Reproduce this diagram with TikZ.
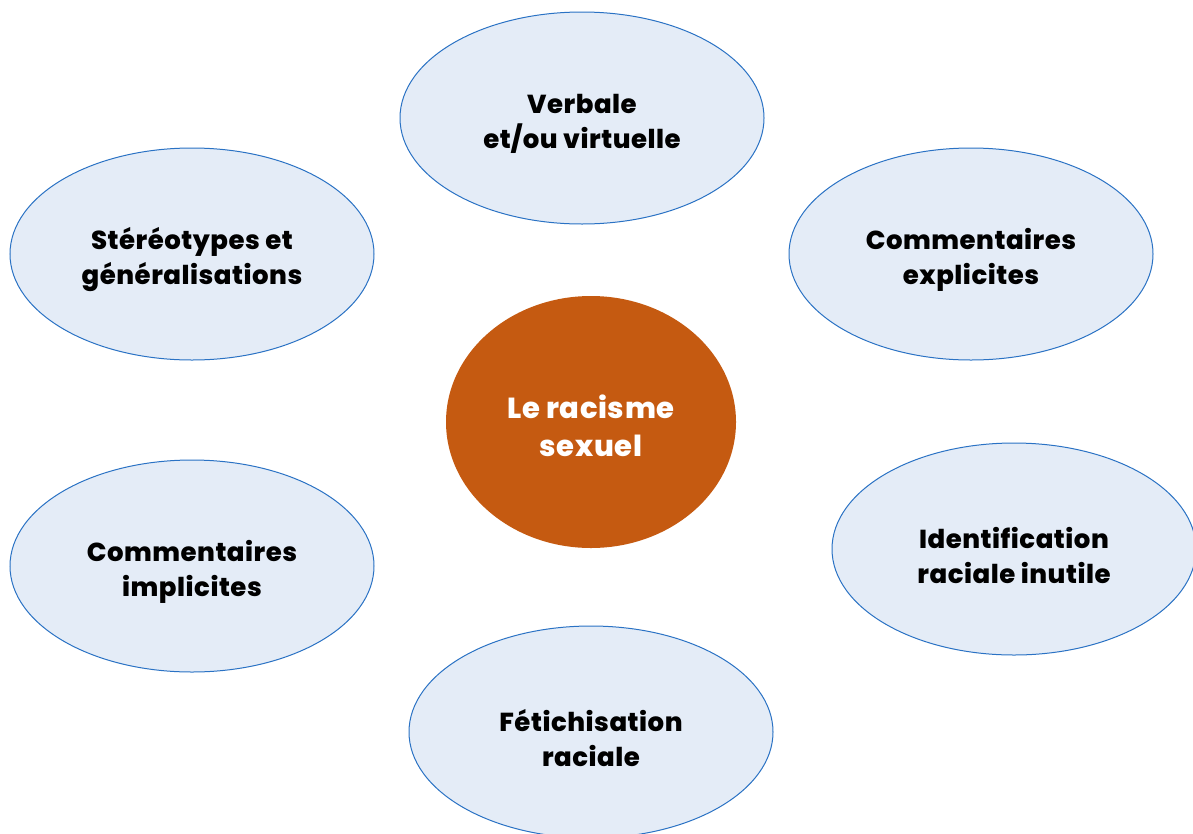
\documentclass[tikz,border=0pt]{standalone}
\usepackage{fontspec}
\setmainfont{Poppins}[BoldFont={Poppins ExtraBold}, BoldFeatures={LetterSpace=2}]
\usetikzlibrary{shapes.geometric}
\definecolor{bulle}{HTML}{E4ECF7}
\definecolor{bord}{HTML}{2A72C4}
\definecolor{rouille}{HTML}{C55A11}
\begin{document}
\begin{tikzpicture}[x=1pt,y=-1pt,
    texte/.style={align=center, inner sep=0pt, font=\fontsize{26}{35}\selectfont\bfseries},
    forme/.style={ellipse, draw=bord, line width=1pt, fill=bulle, inner sep=0pt,
                  minimum width=364pt, minimum height=212pt,
                  label={[texte, yshift=-6pt]center:#1}},
    coeur/.style={ellipse, fill=rouille, inner sep=0pt,
                  minimum width=290pt, minimum height=252pt,
                  label={[texte, text=white, yshift=-4pt,
                          font=\fontsize{29}{38}\selectfont\bfseries]center:#1}}]

                    \useasboundingbox (0,0) rectangle (1193,833);
                    \clip (0,0) rectangle (1193,833);

                    \node[coeur={Le racisme\\sexuel}] (racisme) at (591,422) {};

                    \node[forme={Verbale\\et/ou virtuelle}] (verbale) at (582,118) {};
                    \node[forme={Stéréotypes et\\généralisations}] (stereo) at (192,254) {};
                    \node[forme={Commentaires\\explicites}] (explicite) at (971,254) {};
                    \node[forme={Commentaires\\implicites}] (implicite) at (192,566) {};
                    \node[forme={Identification\\raciale inutile}] (identif) at (1014,549) {};
                    \node[forme={Fétichisation\\raciale}] (fetiche) at (591,732) {};
                \end{tikzpicture}
\end{document}
